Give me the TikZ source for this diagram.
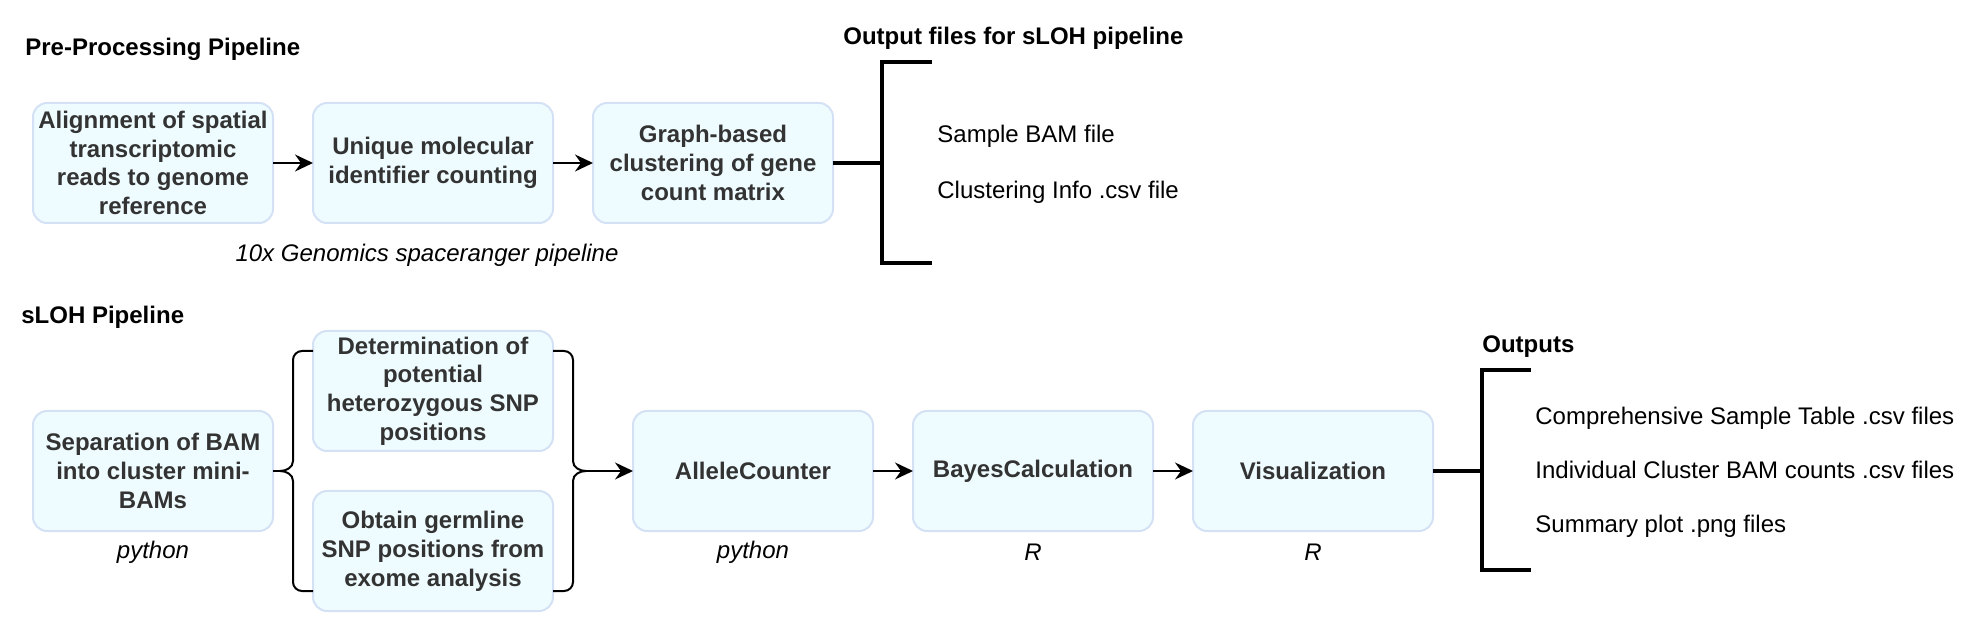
\documentclass[tikz,border=0pt]{standalone}
\usepackage{fontspec}
\setmainfont{Liberation Sans}
\usetikzlibrary{arrows.meta}
\definecolor{boxfill}{HTML}{EFFCFF}
\definecolor{boxline}{HTML}{D4E1F5}
\definecolor{boxtext}{HTML}{333333}
\tikzset{
  procbox/.style={draw=boxline, fill=boxfill, line width=1pt, rounded corners=7pt,
    minimum width=120pt, minimum height=60pt, inner sep=0pt, outer sep=0pt,
    align=center, text=boxtext, font=\fontsize{12}{14.4}\selectfont\bfseries},
  flow/.style={line width=1pt, -{Stealth[length=9pt,width=8.5pt,inset=3pt]}},
  bracketline/.style={line width=2.2pt, line join=miter},
  braceline/.style={line width=1pt},
  heading/.style={font=\fontsize{12}{14.4}\selectfont\bfseries, inner sep=0pt, anchor=base west},
  plain/.style={font=\fontsize{12}{14.4}\selectfont, inner sep=0pt, anchor=base west},
  tool/.style={font=\fontsize{12}{14.4}\selectfont\itshape, inner sep=0pt, anchor=base},
}
\begin{document}
\begin{tikzpicture}[x=0.5pt, y=-0.5pt]
\useasboundingbox (0,0) rectangle (1978,636);

% ---------- Pre-processing pipeline ----------
\node[heading] (pretitle) at (25,56) {Pre-Processing Pipeline};
\node[procbox] (b1) at (153,163) {Alignment of spatial\\transcriptomic\\reads to genome\\reference};
\node[procbox] (b2) at (433,163) {Unique molecular\\identifier counting};
\node[procbox] (b3) at (713,163) {Graph-based\\clustering of gene\\count matrix};
\node[tool] (tenx) at (427,262) {10x Genomics spaceranger pipeline};
\draw[flow] (b1) -- (b2);
\draw[flow] (b2) -- (b3);

\node[heading] (outtitle) at (843,45) {Output files for sLOH pipeline};
\coordinate (br1) at (882,163);
\draw[bracketline] (b3.east) -- (br1);
\draw[bracketline] (932,62) -- (882,62) -- (882,263) -- (932,263);
\node[plain] (o1) at (937,143) {Sample BAM file};
\node[plain] (o2) at (937,199) {Clustering Info .csv file};

% ---------- sLOH pipeline ----------
\node[heading] (slohtitle) at (21,324) {sLOH Pipeline};
\node[procbox] (sep) at (153,471) {Separation of BAM\\into cluster mini-\\BAMs};
\node[procbox] (det) at (433,391) {Determination of\\potential\\heterozygous SNP\\positions};
\node[procbox] (obt) at (433,551) {Obtain germline\\SNP positions from\\exome analysis};
\node[procbox] (ac) at (753,471) {AlleleCounter};
\node[procbox] (bc) at (1033,471) {BayesCalculation};
\node[procbox] (vis) at (1313,471) {Visualization};

\node[tool] (t1) at (153,559) {python};
\node[tool] (t2) at (753,559) {python};
\node[tool] (t3) at (1033,560) {R};
\node[tool] (t4) at (1313,560) {R};

% left brace
\coordinate (lbtip) at (280,471);
\draw[braceline] (sep.east) -- (lbtip);
\draw[braceline] (313,351) -- (302,351) to[out=180,in=90] (293,360) -- (293,461)
  to[out=270,in=0] (lbtip) to[out=0,in=90] (293,481) -- (293,582)
  to[out=270,in=180] (302,591) -- (313,591);
% right brace
\coordinate (rbtip) at (586,471);
\draw[braceline] (553,351) -- (564,351) to[out=0,in=90] (573,360) -- (573,461)
  to[out=270,in=180] (rbtip) to[out=180,in=90] (573,481) -- (573,582)
  to[out=270,in=0] (564,591) -- (553,591);
\draw[flow] (rbtip) -- (ac);
\draw[flow] (ac) -- (bc);
\draw[flow] (bc) -- (vis);

\node[heading] (outs) at (1482,353) {Outputs};
\coordinate (br2) at (1482,471);
\draw[bracketline] (vis.east) -- (br2);
\draw[bracketline] (1531,370) -- (1482,370) -- (1482,570) -- (1531,570);
\node[plain] (p1) at (1535,425) {Comprehensive Sample Table .csv files};
\node[plain] (p2) at (1535,479) {Individual Cluster BAM counts .csv files};
\node[plain] (p3) at (1535,532) {Summary plot .png files};
\end{tikzpicture}
\end{document}
